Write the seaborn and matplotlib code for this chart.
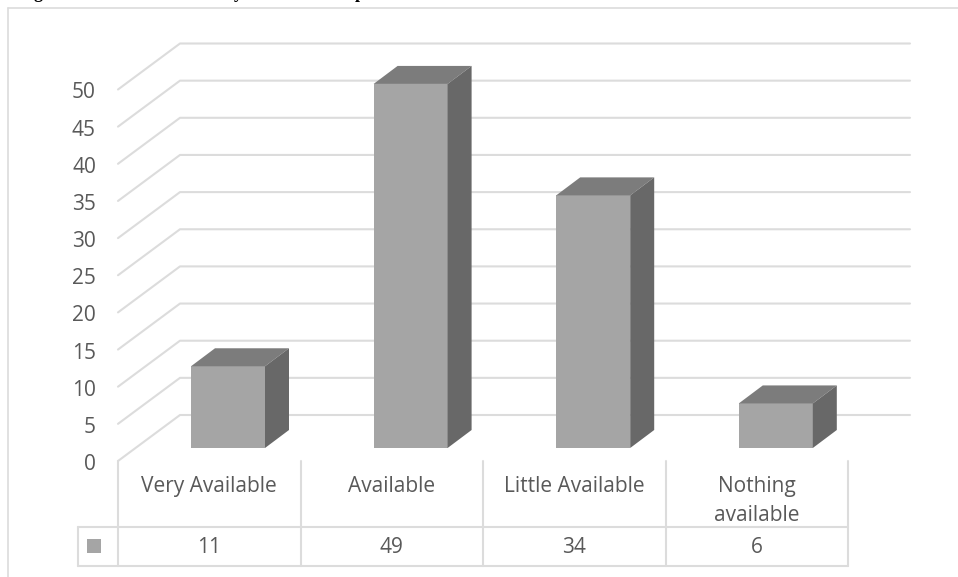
import matplotlib
matplotlib.use("Agg")
import matplotlib.pyplot as plt
from matplotlib.patches import Polygon, Rectangle
import pandas as pd
import seaborn as sns

categories = ["Very Available", "Available", "Little Available", "Nothing\navailable"]
responses = [11, 49, 34, 6]
y_ticks = [0, 5, 10, 15, 20, 25, 30, 35, 40, 45, 50]

W, H = 958, 577
PX_PER_CAT = 182.6
PX_PER_VAL = 7.43
BAR_X0 = 228
BAR_BASE = 448
DEPTH_X, DEPTH_Y = 24, 18
FONT_SIZE = 15

GRID = "#dcdcdc"
TEXT = "#595959"
FRONT = "#a5a5a5"
TOP = "#7c7c7c"
SIDE = "#686868"

sns.set_theme(style="white")
plt.rcParams["font.family"] = ["Open Sans", "DejaVu Sans"]

fig = plt.figure(figsize=(W / 100, H / 100), dpi=100)

# pixel layer for the chart furniture
bg = fig.add_axes([0, 0, 1, 1])
bg.set_xlim(0, W)
bg.set_ylim(H, 0)
bg.axis("off")

# chart frame, cut by the page edge
bg.plot([8, 8], [H, 8], color=GRID, lw=1.2)
bg.plot([8, W], [8, 8], color=GRID, lw=1.2)

# only the descenders of the caption survive the crop
for letter, x in [("g", 38), ("y", 238), ("p", 360)]:
    bg.text(x, -2, letter, ha="center", va="baseline", family="Liberation Serif",
            weight="bold", fontsize=13, color="black")

for v in y_ticks:
    front_y = 461 - PX_PER_VAL * v
    back_y = 415 - PX_PER_VAL * v
    bg.plot([118, 180, 910], [front_y, back_y, back_y], color=GRID, lw=1.5)
    bg.text(96, front_y + 9, str(v), ha="right", va="baseline", color=TEXT, fontsize=FONT_SIZE)

# data table under the plot
col_edges = [118 + PX_PER_CAT * i for i in range(len(categories) + 1)]
for x in col_edges:
    bg.plot([x, x], [461, 566], color=GRID, lw=1.5)
bg.plot([78, col_edges[-1]], [527, 527], color=GRID, lw=1.5)
bg.plot([78, col_edges[-1]], [566, 566], color=GRID, lw=1.5)
bg.plot([78, 78], [527, 566], color=GRID, lw=1.5)
bg.add_patch(Rectangle((87, 539), 14, 14, color=FRONT, lw=0))
for i, (cat, val) in enumerate(zip(categories, responses)):
    cx = (col_edges[i] + col_edges[i + 1]) / 2
    for n, line in enumerate(cat.split("\n")):
        bg.text(cx, 492 + 29 * n, line, ha="center", va="baseline", color=TEXT, fontsize=FONT_SIZE)
    bg.text(cx, 553, str(val), ha="center", va="baseline", color=TEXT, fontsize=FONT_SIZE)

# bars: same scale as the picture, one category = PX_PER_CAT pixels
ax = fig.add_axes([0, 0, 1, 1])
ax.patch.set_alpha(0)
df = pd.DataFrame({"category": categories, "responses": responses})
sns.barplot(data=df, x="category", y="responses", color=FRONT, saturation=1,
            width=74 / PX_PER_CAT, linewidth=0, ax=ax)
ax.set_xlim(-BAR_X0 / PX_PER_CAT, (W - BAR_X0) / PX_PER_CAT)
ax.set_ylim(-(H - BAR_BASE) / PX_PER_VAL, BAR_BASE / PX_PER_VAL)
ax.axis("off")

dx = DEPTH_X / PX_PER_CAT
dy = DEPTH_Y / PX_PER_VAL
for bar in list(ax.patches):
    x0, x1 = bar.get_x(), bar.get_x() + bar.get_width()
    h = bar.get_height()
    ax.add_patch(Polygon([(x0, h), (x1, h), (x1 + dx, h + dy), (x0 + dx, h + dy)], color=TOP, lw=0))
    ax.add_patch(Polygon([(x1, 0), (x1 + dx, dy), (x1 + dx, h + dy), (x1, h)], color=SIDE, lw=0))

fig.savefig("out.png", dpi=100)
